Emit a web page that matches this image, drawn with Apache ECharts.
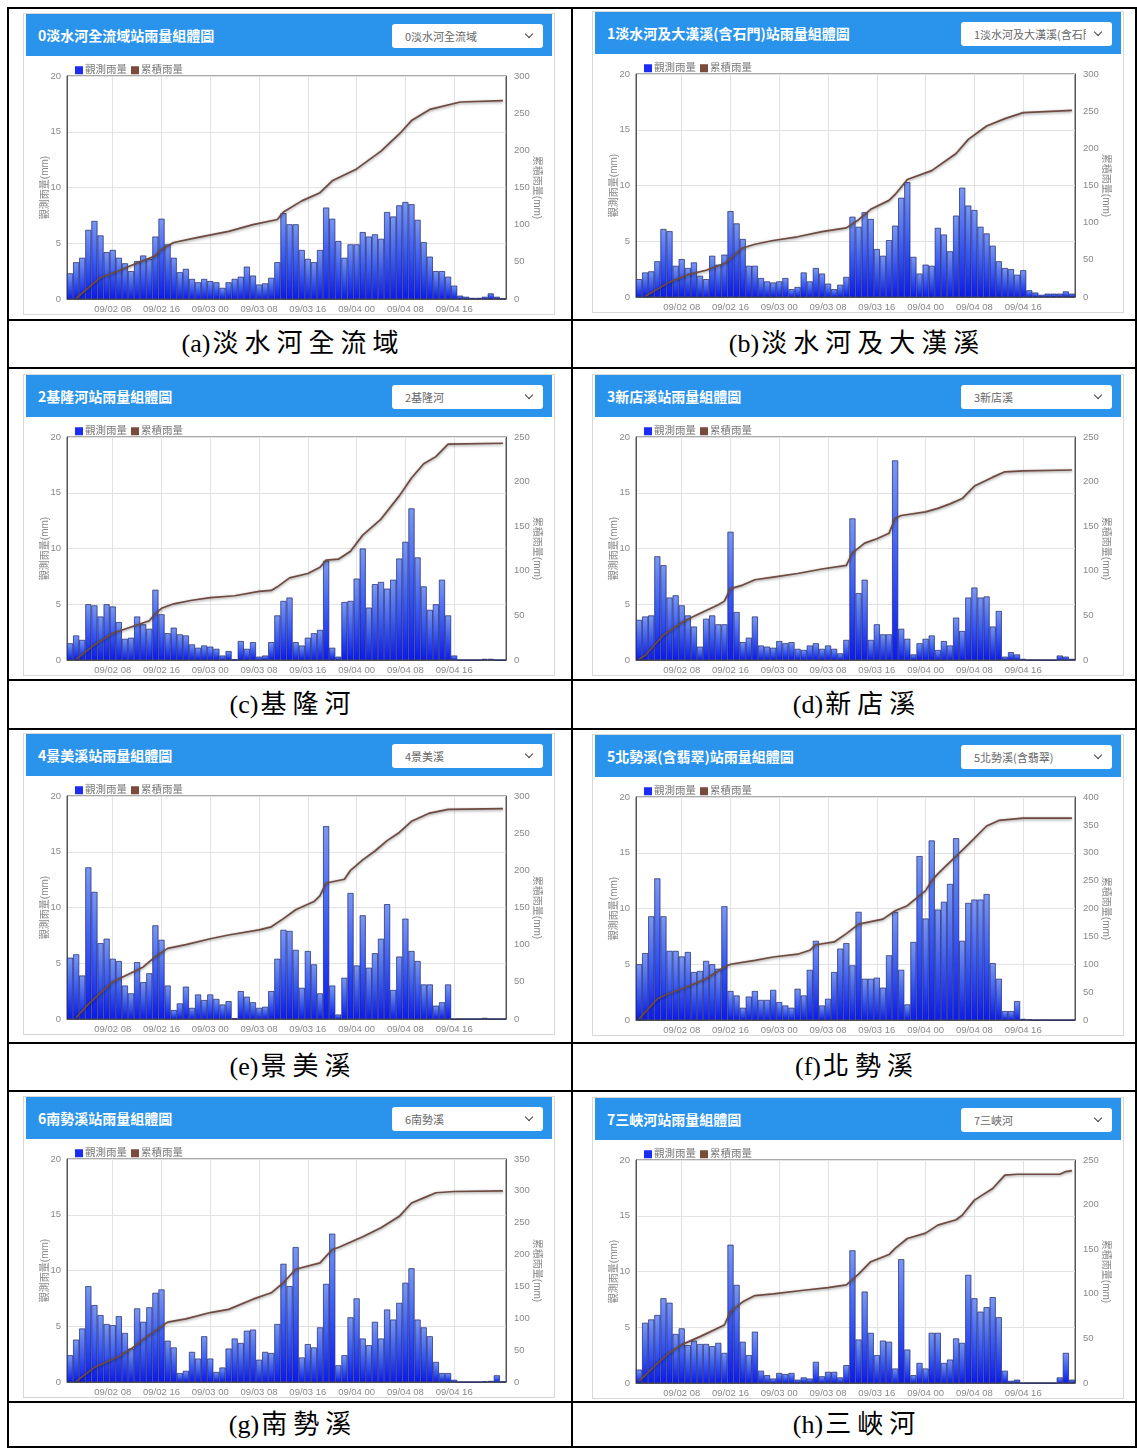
<!DOCTYPE html>
<html><head><meta charset="utf-8">
<script src="https://cdn.jsdelivr.net/npm/echarts@6/dist/echarts.min.js"></script>
<style>
body{margin:0;background:#fff;width:1137px;height:1448px;position:relative;overflow:hidden;font-family:"Noto Sans CJK TC","Noto Sans",sans-serif;}
.hl{position:absolute;background:#000;height:2px;left:7px;width:1130px;}
.vl{position:absolute;background:#000;width:2px;top:7px;height:1441px;}
.card{position:absolute;width:532px;height:302px;border:1px solid #d8d8d8;background:#fff;box-sizing:border-box;}
.hdr{position:absolute;left:2px;right:2px;top:0;height:42px;background:#2a93ec;}
.ttl{position:absolute;left:12px;top:0;line-height:42px;color:#fff;font-size:14px;font-weight:bold;white-space:nowrap;}
.sel{position:absolute;left:366px;top:10px;width:151px;height:24px;background:#fff;border-radius:3px;overflow:hidden;}
.sel span{position:absolute;left:13px;top:0;line-height:24px;font-size:11px;color:#666;white-space:nowrap;width:112px;overflow:hidden;}
.chev{position:absolute;right:11px;top:7px;width:5px;height:5px;border-right:1.6px solid #444;border-bottom:1.6px solid #444;transform:rotate(45deg);}
.chart{position:absolute;left:0;top:42px;width:530px;height:258px;}
.cap{position:absolute;text-align:center;font-family:"Liberation Serif","Noto Sans CJK TC",serif;font-size:26px;color:#000;}
.cap .lt{letter-spacing:0;margin-right:2px;}
.cap .zh{letter-spacing:6px;margin-right:-6px;}
</style></head>
<body>
<script>
// ---------- data ----------
const tickLabels = ['09/02 08','09/02 16','09/03 00','09/03 08','09/03 16','09/04 00','09/04 08','09/04 16'];
const titles = ['0淡水河全流域站雨量組體圖','1淡水河及大漢溪(含石門)站雨量組體圖','2基隆河站雨量組體圖','3新店溪站雨量組體圖','4景美溪站雨量組體圖','5北勢溪(含翡翠)站雨量組體圖','6南勢溪站雨量組體圖','7三峽河站雨量組體圖'];
const selects = ['0淡水河全流域','1淡水河及大漢溪(含石門)','2基隆河','3新店溪','4景美溪','5北勢溪(含翡翠)','6南勢溪','7三峽河'];
const capLetters = ['(a)','(b)','(c)','(d)','(e)','(f)','(g)','(h)'];
const capNames = ['淡水河全流域','淡水河及大漢溪','基隆河','新店溪','景美溪','北勢溪','南勢溪','三峽河'];
const rightMax = [300,300,250,250,300,400,350,250];
const legendNames = ['觀測雨量','累積雨量'];

const rainA = [2.3,3.3,3.7,6.2,7.0,5.7,4.2,4.4,3.7,3.2, 2.5,3.4,3.9,3.6,5.6,7.2,4.9,3.7,2.4,2.7, 1.8,1.5,1.8,1.6,1.5,1.0,1.5,1.8,2.0,2.9, 2.1,1.3,1.4,1.9,3.3,7.7,6.7,6.7,4.4,3.6, 3.3,4.4,8.2,7.2,5.2,3.7,4.9,4.9,6.0,5.6, 5.8,5.4,7.8,7.4,8.4,8.7,8.5,7.1,5.1,3.8, 2.5,2.5,2.0,1.2,0.3,0.2,0.1,0.1,0.2,0.5, 0.2,0.05];
const cumA = [[1,1],[5,29],[8,38],[10,45],[14,58],[15,67],[17,76],[21,83],[26,91],[30,100],[34,107],[35,117],[38,132],[41,143],[43,159],[47,175],[51,199],[54,222],[56,240],[59,255],[64,265],[71,267]];

const rainB = [1.6,2.2,2.3,3.2,6.1,5.9,2.8,3.4,2.6,3.1, 1.9,1.6,3.7,2.9,3.8,7.7,6.6,5.2,2.8,2.8, 1.7,1.4,1.3,1.4,1.7,0.7,0.9,2.2,1.4,2.6, 2.1,1.2,0.7,1.1,1.8,7.2,6.3,7.6,7.0,4.3, 3.7,5.1,6.4,8.9,10.3,3.6,2.1,2.9,2.8,6.2, 5.6,4.1,7.3,9.8,8.2,7.8,6.3,5.7,4.6,3.2, 2.6,2.5,2.0,2.4,0.6,0.4,0.2,0.3,0.3,0.3, 0.5,0.3];
const cumB = [[1,1],[5,20],[8,30],[11,36],[14,45],[17,66],[19,71],[22,76],[26,81],[30,88],[34,93],[36,104],[38,118],[41,130],[42,138],[44,158],[48,170],[52,193],[54,212],[57,230],[60,240],[63,248],[71,251]];

const rainC = [1.5,2.2,1.8,5.0,4.9,3.9,5.0,4.8,3.4,1.9, 2.0,3.9,3.2,2.8,6.3,4.1,2.4,2.9,2.3,2.2, 1.4,1.1,1.3,1.2,1.0,0.4,0.8,0.05,1.7,1.0, 1.6,0.3,0.4,1.6,4.0,5.3,5.6,1.6,1.3,2.0, 2.4,2.7,8.9,1.1,0.3,5.2,5.3,7.3,10.0,4.7, 6.8,7.0,6.4,7.2,9.1,10.6,13.6,9.2,6.6,4.5, 5.0,7.2,4.0,0.4,0,0,0,0,0.1,0.1, 0,0];
const cumC = [[1,1],[4,17],[7,30],[10,37],[13,44],[14,52],[15,58],[17,63],[20,67],[23,70],[27,72],[31,77],[33,78],[34,82],[36,92],[39,97],[41,104],[42,112],[44,113],[46,122],[48,140],[51,158],[54,184],[56,204],[58,220],[60,228],[62,242],[71,243]];

const rainD = [3.6,3.9,4.0,9.3,8.5,5.6,5.8,4.9,4.0,3.0, 1.2,3.7,4.0,3.2,3.2,11.5,4.3,1.6,2.0,3.9, 1.3,1.2,1.1,1.7,1.5,1.6,1.0,0.9,1.3,1.5, 1.0,1.3,1.0,0.6,1.8,12.7,6.0,7.2,1.8,3.2, 2.3,2.3,17.9,2.8,1.9,0.5,1.5,1.9,2.2,0.9, 1.7,1.3,3.8,2.6,5.6,6.5,5.6,5.7,3.0,4.4, 0.3,0.7,0.5,0.1,0,0,0,0,0,0.4, 0.3,0.1];
const cumD = [[0,1],[1,5],[4,28],[7,42],[9,49],[13,62],[14,66],[15,80],[17,84],[19,90],[22,93],[26,97],[30,102],[34,106],[35,120],[37,131],[39,136],[41,142],[42,159],[43,162],[47,166],[49,170],[51,175],[53,181],[55,195],[58,205],[60,211],[63,212],[71,213]];

const rainE = [5.5,5.8,3.9,13.6,11.4,6.8,7.2,5.4,5.2,3.0, 2.3,5.1,3.3,4.1,8.4,7.1,3.0,0.8,1.4,2.9, 1.0,2.2,1.7,2.2,1.8,1.3,1.6,0.05,2.5,2.0, 1.5,1.0,1.1,2.5,5.4,8.0,7.9,6.2,2.8,6.1, 4.9,2.3,17.3,3.0,0.4,3.7,11.3,4.8,9.3,4.6, 5.9,7.2,10.3,2.6,5.6,9.0,6.1,5.2,3.1,3.1, 1.2,1.5,3.1,0,0,0,0,0,0.1,0, 0,0];
const cumE = [[1,2],[3,20],[5,35],[7,50],[10,62],[12,70],[14,84],[16,95],[19,100],[23,108],[26,113],[31,120],[33,124],[35,135],[37,147],[40,158],[41,166],[42,183],[45,188],[46,200],[48,214],[50,226],[52,240],[54,251],[56,266],[59,277],[62,282],[71,283]];

const rainF = [5.0,6.0,9.3,12.7,9.3,6.2,6.2,5.7,6.1,4.3, 4.4,5.3,5.0,4.6,10.2,2.6,2.2,1.1,2.1,2.6, 1.8,1.8,2.7,1.6,1.3,1.1,2.8,2.2,4.5,7.1, 1.3,1.9,4.3,6.4,6.9,4.9,9.7,3.7,3.7,3.8, 2.9,5.8,9.7,4.5,1.4,7.0,14.7,9.1,16.1,9.9, 10.6,12.2,16.3,7.1,10.5,10.8,10.8,11.3,5.1,3.7, 0.8,0.8,1.7,0.1,0.05,0,0,0,0,0, 0,0];
const cumF = [[0,2],[3,38],[5,48],[8,60],[11,74],[14,95],[15,100],[19,107],[22,113],[26,118],[28,125],[29,135],[32,140],[34,155],[36,172],[40,181],[42,196],[44,205],[45,214],[47,232],[48,250],[49,262],[50,273],[52,294],[54,315],[57,348],[59,358],[63,362],[71,362]];

const rainG = [2.4,3.8,4.8,8.6,6.9,6.0,5.2,5.1,5.9,4.4, 3.0,6.6,5.4,6.7,8.0,8.3,3.7,3.1,0.8,1.0, 2.7,2.1,4.1,2.1,0.9,1.3,3.0,3.9,3.5,4.6, 4.7,2.0,2.7,2.6,5.2,10.6,8.6,12.1,2.2,3.4, 3.1,4.9,8.8,13.3,1.5,2.4,5.8,7.5,3.9,3.3, 5.4,3.9,6.5,5.6,7.1,8.9,10.2,5.6,4.9,4.1, 1.8,0.8,0.8,0.2,0,0,0,0,0.05,0.1, 0.6,0.05];
const cumG = [[1,1],[4,23],[8,40],[10,52],[13,74],[16,94],[19,99],[23,109],[26,114],[30,130],[33,140],[35,156],[37,177],[41,187],[43,208],[44,211],[48,228],[51,242],[54,260],[56,281],[58,289],[60,297],[63,299],[71,300]];

const rainH = [1.2,5.4,5.7,6.1,7.6,7.2,4.4,4.9,3.4,3.8, 3.5,3.5,3.3,3.6,2.7,12.4,8.8,3.7,2.5,4.6, 1.1,0.7,0.4,0.9,0.8,0.9,0.3,0.5,0.4,1.9, 0.6,1.0,1.0,0.5,1.6,11.9,3.9,8.2,4.5,2.5, 3.8,3.7,1.3,11.1,3.0,0.7,1.8,1.3,4.5,4.5, 1.8,2.1,4.0,3.6,9.7,7.6,6.4,6.8,7.7,5.9, 1.1,0.2,0.3,0,0,0,0,0,0,0.5, 2.7,0.3];
const cumH = [[0,2],[3,22],[5,34],[7,43],[10,52],[14,65],[15,80],[17,91],[19,98],[22,100],[27,104],[31,107],[34,110],[36,122],[38,136],[41,144],[42,151],[44,162],[47,168],[49,177],[52,183],[53,188],[55,205],[58,218],[60,233],[62,234],[69,234],[70,237],[71,238]];

const rainSeries = [rainA,rainB,rainC,rainD,rainE,rainF,rainG,rainH];
const cumSeries = [cumA,cumB,cumC,cumD,cumE,cumF,cumG,cumH];

// hourly categories 09/02 01 ... 09/05 00
const categories = [];
for (let h = 1; h <= 72; h++) {
  const d = 2 + Math.floor(h / 24), hh = h % 24;
  categories.push('09/0' + d + ' ' + String(hh).padStart(2, '0'));
}

// ---------- layout ----------
const hLines = [7,319,367,679,728,1042,1090,1401,1446];
const vLines = [7,571,1135];
hLines.forEach(y => { const e = document.createElement('div'); e.className='hl'; e.style.top=y+'px'; document.body.appendChild(e); });
vLines.forEach(x => { const e = document.createElement('div'); e.className='vl'; e.style.left=x+'px'; document.body.appendChild(e); });

const cardLeft = [23,592];
const cardTop = [[13,11],[374,374],[733,734],[1096,1097]];
const capTops = [[321,367],[681,728],[1044,1090],[1403,1446]];

const showIdx = (i, v) => tickLabels.indexOf(categories[i]) >= 0;
const FONT = '"Liberation Sans","Noto Sans CJK TC",sans-serif';

for (let p = 0; p < 8; p++) {
  const row = Math.floor(p / 2), col = p % 2;
  const card = document.createElement('div');
  card.className = 'card';
  card.style.left = cardLeft[col] + 'px';
  card.style.top = cardTop[row][col] + 'px';
  card.innerHTML = '<div class="hdr"><div class="ttl">' + titles[p] + '</div><div class="sel"><span>' + selects[p] + '</span><div class="chev"></div></div></div><div class="chart"></div>';
  document.body.appendChild(card);

  const cap = document.createElement('div');
  cap.className = 'cap';
  const ct = capTops[row];
  cap.style.left = (col === 0 ? 9 : 573) + 'px';
  cap.style.width = '562px';
  cap.style.top = ct[0] + 'px';
  cap.style.height = (ct[1] - ct[0]) + 'px';
  cap.style.lineHeight = (ct[1] - ct[0]) + 'px';
  cap.innerHTML = '<span class="lt">' + capLetters[p] + '</span><span class="zh">' + capNames[p] + '</span>';
  document.body.appendChild(cap);

  const chart = echarts.init(card.querySelector('.chart'), null, {renderer: 'canvas'});
  chart.setOption({
    animation: false,
    textStyle: {fontFamily: FONT},
    legend: {
      left: 46, top: 4, itemWidth: 8, itemHeight: 8, itemGap: 4,
      textStyle: {fontSize: 10.5, color: '#777', fontFamily: FONT, padding: [0, 0, 0, -3]},
      data: [
        {name: legendNames[0], icon: 'rect', itemStyle: {color: '#1a2cf5', borderWidth: 0}},
        {name: legendNames[1], icon: 'rect', itemStyle: {color: '#7a4a3a', borderWidth: 0}}
      ]
    },
    grid: {left: 43, top: 20, width: 439, height: 223, show: true, borderColor: '#555', borderWidth: 1, containLabel: false, outerBoundsMode: 'none'},
    xAxis: {
      type: 'category', data: categories, boundaryGap: true,
      axisLine: {lineStyle: {color: '#555'}},
      axisTick: {show: false},
      axisLabel: {interval: showIdx, color: '#888', fontSize: 9.5, margin: 6},
      splitLine: {show: true, interval: showIdx, alignWithLabel: true, lineStyle: {color: '#e2e2e2'}}
    },
    yAxis: [
      {type: 'value', min: 0, max: 20, interval: 5, name: '觀測雨量(mm)', nameLocation: 'middle', nameGap: 17, nameRotate: 90, nameMoveOverlap: false,
       nameTextStyle: {fontSize: 10, color: '#888'},
       axisLine: {show: true, lineStyle: {color: '#555'}}, axisTick: {show: false},
       axisLabel: {color: '#888', fontSize: 9.5, margin: 6},
       splitLine: {show: true, lineStyle: {color: '#e2e2e2'}}},
      {type: 'value', min: 0, max: rightMax[p], interval: 50, position: 'right', name: '累積雨量(mm)', nameLocation: 'middle', nameGap: 26, nameRotate: -90, nameMoveOverlap: false,
       nameTextStyle: {fontSize: 10, color: '#888'},
       axisLine: {show: true, lineStyle: {color: '#555'}}, axisTick: {show: false},
       axisLabel: {color: '#888', fontSize: 9.5, margin: 8},
       splitLine: {show: false}}
    ],
    series: [
      {type: 'bar', name: legendNames[0], data: rainSeries[p], barCategoryGap: '0%',
       itemStyle: {color: new echarts.graphic.LinearGradient(0, 0, 0, 1, [{offset: 0, color: '#7a97f2'}, {offset: 0.5, color: '#3a5cf6'}, {offset: 1, color: '#0a1af2'}]),
                   borderColor: '#1c2468', borderWidth: 0.7}},
      {type: 'line', name: legendNames[1], yAxisIndex: 1, data: cumSeries[p], showSymbol: false, symbol: 'none',
       lineStyle: {color: '#6e4a40', width: 1.7, shadowColor: 'rgba(0,0,0,0.45)', shadowBlur: 3, shadowOffsetY: 1},
       itemStyle: {color: '#7a4a3a'}, z: 5}
    ]
  });
}
</script>
</body></html>
